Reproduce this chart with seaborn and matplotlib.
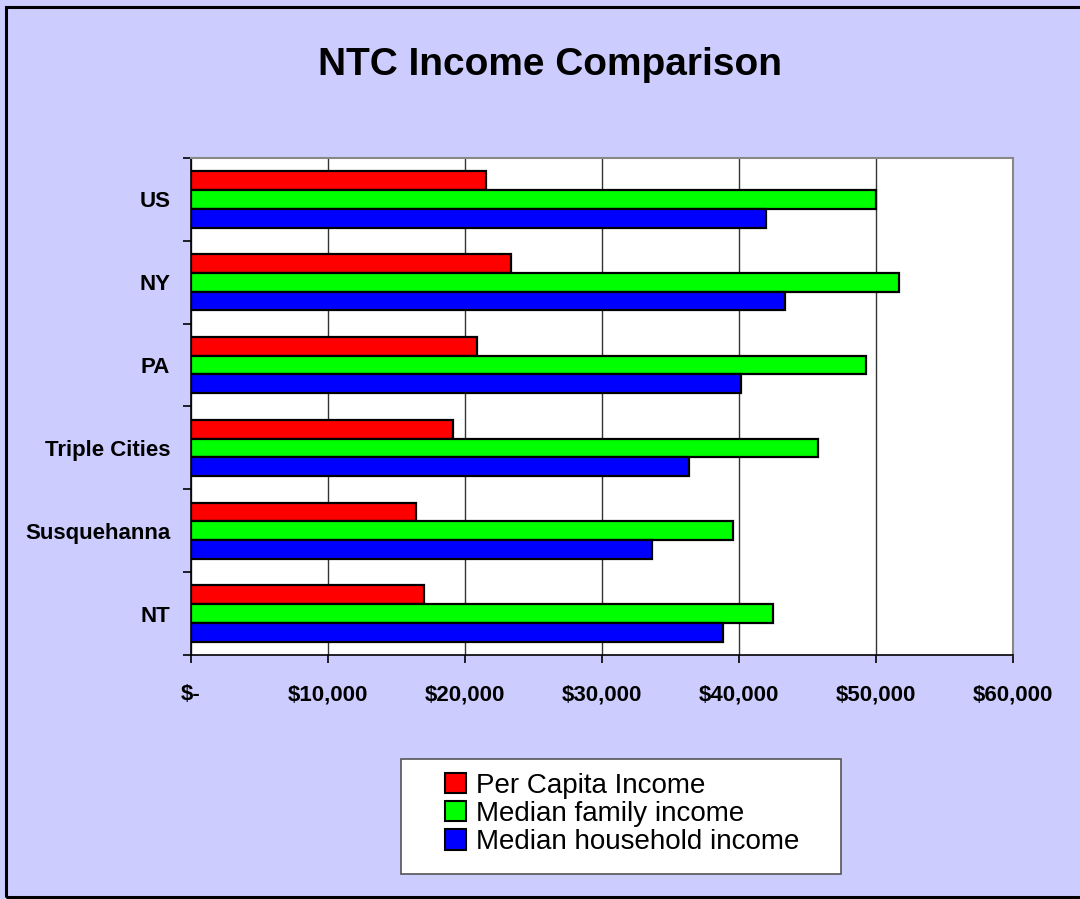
import numpy as np
import pandas as pd
import matplotlib
matplotlib.use("Agg")
import matplotlib.pyplot as plt
from matplotlib.patches import Rectangle, Patch
from matplotlib.ticker import FuncFormatter
import seaborn as sns

# ---- data ----
regions = ["US", "NY", "PA", "Triple Cities", "Susquehanna", "NT"]
series_names = ["Per Capita Income", "Median family income", "Median household income"]
per_capita = [21500, 23390, 20900, 19110, 16390, 17000]
median_family = [50030, 51690, 49280, 45780, 39580, 42470]
median_household = [41990, 43370, 40180, 36380, 33640, 38800]
x_ticks = [0, 10000, 20000, 30000, 40000, 50000, 60000]
colors = ["#FF0000", "#00FF00", "#0000FF"]

df = pd.DataFrame({
    "Region": regions * 3,
    "Series": [series_names[0]] * 6 + [series_names[1]] * 6 + [series_names[2]] * 6,
    "Income": per_capita + median_family + median_household,
})

sns.set_theme(style="white")
NARROW = ["Liberation Sans", "DejaVu Sans"]
REG = ["Liberation Sans", "DejaVu Sans"]
plt.rcParams["font.family"] = REG

BG = "#CCCCFF"
fig = plt.figure(figsize=(10.8, 8.99), dpi=100, facecolor=BG)
W, H = 1080, 899
ax = fig.add_axes([191 / W, 1 - 655 / H, (1013 - 191) / W, (655 - 158) / H])
ax.set_facecolor("white")

sns.barplot(data=df, y="Region", x="Income", hue="Series", order=regions,
            hue_order=series_names, palette=colors, saturation=1, width=0.68,
            edgecolor="black", linewidth=1.6, orient="h", ax=ax, errorbar=None)

if ax.get_legend() is not None:
    ax.get_legend().remove()

ax.set_xlim(0, 60000)
ax.set_ylim(5.5, -0.5)
ax.set_xticks(x_ticks)
ax.xaxis.set_major_formatter(FuncFormatter(lambda v, p: "$-" if v == 0 else "${:,.0f}".format(v)))
ax.set_xlabel("")
ax.set_ylabel("")

ax.set_yticks(np.arange(-0.5, 6, 1))
ax.set_yticklabels([])
ax.set_yticks(range(len(regions)), minor=True)
ax.set_yticklabels(regions, minor=True)
ax.tick_params(axis="y", which="major", direction="out", length=6, width=1.2, color="black", left=True)
ax.tick_params(axis="y", which="minor", length=0, pad=15)
ax.tick_params(axis="x", which="major", direction="out", length=6, width=1.2, color="black", bottom=True, pad=15)
for lab in ax.get_yticklabels(minor=True) + ax.get_xticklabels():
    lab.set_fontfamily(NARROW)
    lab.set_fontweight("bold")
    lab.set_fontsize(16)
    lab.set_color("black")

ax.set_axisbelow(True)
ax.xaxis.grid(True, color="#333333", linewidth=1.0)
ax.yaxis.grid(False)
for side in ["top", "right"]:
    ax.spines[side].set_color("#888888")
    ax.spines[side].set_linewidth(1.5)
for side in ["left", "bottom"]:
    ax.spines[side].set_color("black")
    ax.spines[side].set_linewidth(1.2)

fig.text(0.509, 0.928, "NTC Income Comparison", ha="center", va="center",
         fontsize=28, fontweight="bold", family=NARROW, color="black")

# legend
lh = [Patch(facecolor=c, edgecolor="black", linewidth=1.5) for c in colors]
fig.patches.append(Rectangle((401 / W, 1 - 874 / H), 440 / W, 115 / H, transform=fig.transFigure,
                             facecolor="white", edgecolor="#555555", linewidth=1.2, zorder=1))
leg = fig.legend(lh, series_names, loc="center", bbox_to_anchor=(622 / W, 1 - 814 / H),
                 frameon=False, handlelength=0.75, handleheight=0.75,
                 handletextpad=0.35, labelspacing=0.08, borderpad=0.0,
                 prop={"family": REG, "size": 20})
for t in leg.get_texts():
    t.set_color("black")

# outer border
fig.patches.append(Rectangle((6 / W, 2 / H), 1.2, 890 / H, transform=fig.transFigure,
                             facecolor="none", edgecolor="black", linewidth=2.2, zorder=0))

fig.savefig("out.png", dpi=100, facecolor=BG)
